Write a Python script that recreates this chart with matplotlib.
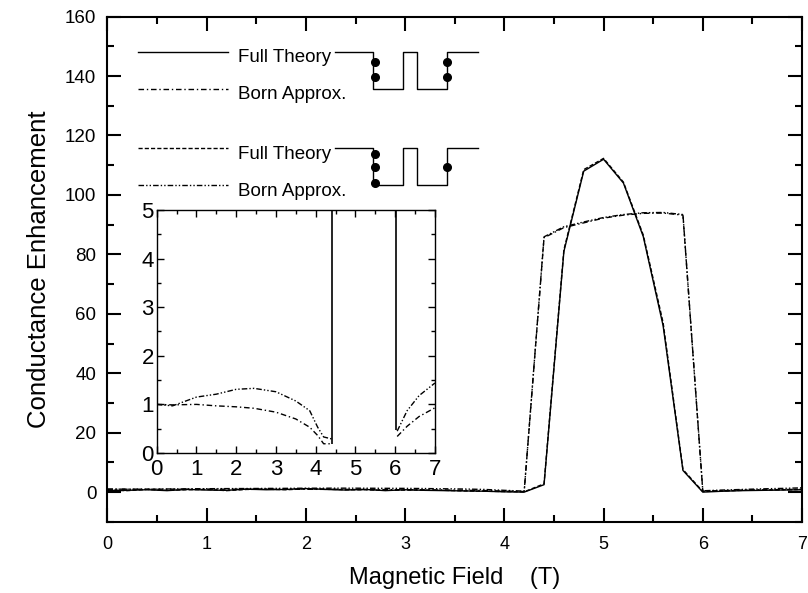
import numpy as np
import matplotlib
matplotlib.use("Agg")
import matplotlib.pyplot as plt
from matplotlib.ticker import MultipleLocator

plt.rcParams['font.family'] = ['Liberation Sans', 'DejaVu Sans']
plt.rcParams['lines.scale_dashes'] = False

# main curves, field in T
field = [0.0, 0.2, 0.4, 0.6, 0.8, 1.0, 1.2, 1.4, 1.6, 1.8, 2.0, 2.2, 2.4, 2.6, 2.8,
         3.0, 3.2, 3.4, 3.6, 3.8, 4.0, 4.2, 4.4, 4.6, 4.8, 5.0, 5.2, 5.4, 5.6, 5.8,
         6.0, 6.2, 6.4, 6.6, 6.8, 7.0]
full1 = [0.5, 0.6, 0.8, 0.5, 0.9, 0.7, 0.6, 1.0, 0.8, 0.9, 1.2, 0.9, 0.7, 0.9, 0.5,
         0.8, 0.6, 0.5, 0.4, 0.3, 0.1, 0.0, 2.5, 81.0, 108.0, 112.0, 104.0, 86.0, 56.0, 7.3,
         0.0, 0.3, 0.5, 0.6, 0.7, 0.8]
born1 = [1.0, 1.0, 0.99, 1.0, 1.0, 1.0, 0.98, 0.97, 0.96, 0.95, 0.95, 0.93, 0.92, 0.88, 0.84,
         0.8, 0.76, 0.7, 0.62, 0.52, 0.35, 0.19, 85.6, 89.0, 90.6, 92.2, 93.2, 93.8, 93.9, 93.2,
         0.34, 0.5, 0.65, 0.77, 0.85, 0.93]
full2 = [0.7, 0.5, 0.9, 0.6, 0.8, 0.9, 0.5, 0.9, 1.0, 0.8, 1.1, 1.0, 0.8, 0.8, 0.6,
         0.7, 0.7, 0.6, 0.4, 0.3, 0.2, 0.1, 2.8, 81.5, 108.5, 112.3, 104.3, 86.5, 57.0, 7.6,
         0.2, 0.4, 0.6, 0.7, 0.8, 0.9]
born2 = [1.0, 0.98, 0.97, 1.05, 1.1, 1.15, 1.18, 1.21, 1.24, 1.27, 1.31, 1.32, 1.33, 1.31, 1.28,
         1.26, 1.2, 1.12, 1.04, 0.9, 0.6, 0.33, 85.9, 89.3, 90.9, 92.4, 93.4, 94.0, 94.1, 93.4,
         0.45, 0.7, 0.9, 1.1, 1.25, 1.44]

# inset (zoom on the low part)
in_field_lo = [0.0, 0.4, 1.0, 1.5, 2.0, 2.45, 3.0, 3.5, 3.85, 4.05, 4.2, 4.4]
in_born1_lo = [1.0, 0.99, 1.0, 0.97, 0.95, 0.92, 0.84, 0.7, 0.53, 0.36, 0.19, 0.19]
in_born2_lo = [1.0, 0.97, 1.15, 1.21, 1.31, 1.33, 1.26, 1.07, 0.87, 0.53, 0.33, 0.29]
in_field_hi = [6.05, 6.3, 6.6, 7.0]
in_born1_hi = [0.34, 0.55, 0.75, 0.93]
in_born2_hi = [0.45, 0.87, 1.18, 1.44]
jump_field = [4.4, 6.03]
jump_low = [0.19, 0.48]

dashdot = (0, (4, 2, 1, 2))
dashed = (0, (3, 1.5))
dashdotdot = (0, (4, 1.5, 1, 1.5, 1, 1.5))

fig = plt.figure(figsize=(8.08, 5.93), dpi=100)
ax = fig.add_axes([0.133, 0.12, 0.8596, 0.852])

ax.plot(field, full1, color='black', lw=1.0)
ax.plot(field, born1, color='black', lw=1.0, linestyle=dashdot)
ax.plot(field, full2, color='black', lw=1.0, linestyle=dashed)
ax.plot(field, born2, color='black', lw=1.0, linestyle=dashdotdot)

ax.set_xlim(0, 7)
ax.set_ylim(-10, 160)
ax.xaxis.set_major_locator(MultipleLocator(1))
ax.xaxis.set_minor_locator(MultipleLocator(0.5))
ax.yaxis.set_major_locator(MultipleLocator(20))
ax.yaxis.set_minor_locator(MultipleLocator(10))
ax.tick_params(which='both', direction='in', top=True, right=True, width=1.5)
ax.tick_params(which='major', length=10)
ax.tick_params(which='minor', length=5)
ax.tick_params(axis='y', labelsize=13.5, pad=8)
ax.tick_params(axis='x', labelsize=13, pad=10)
for s in ax.spines.values():
    s.set_linewidth(1.5)

ax.set_ylabel('Conductance Enhancement', fontsize=18.5, labelpad=10)
ax.set_xlabel('Magnetic Field    (T)', fontsize=17, labelpad=10)

# hand made legend with the well sketches
tr = ax.transAxes
leg_y = [0.9305, 0.8569, 0.7398, 0.666]
leg_styles = ['-', dashdot, dashed, dashdotdot]
leg_text = ['Full Theory', 'Born Approx.', 'Full Theory', 'Born Approx.']
for y, ls, t in zip(leg_y, leg_styles, leg_text):
    ax.plot([0.0439, 0.1735], [y, y], transform=tr, color='black', lw=1.0, linestyle=ls)
    ax.text(0.188, y - 0.012, t, transform=tr, fontsize=13.5, va='center', ha='left')

sx = [0.3272, 0.3827, 0.3827, 0.4259, 0.4259, 0.4461, 0.4461, 0.4893, 0.4893, 0.5339]
for hi, lo in [(0.9305, 0.8569), (0.7398, 0.666)]:
    sy = [hi, hi, lo, lo, hi, hi, lo, lo, hi, hi]
    ax.plot(sx, sy, transform=tr, color='black', lw=1.0)
ax.plot([0.3845] * 2 + [0.4893] * 2, [0.9095, 0.8799, 0.9095, 0.8799], 'o', transform=tr,
        color='black', ms=5.5)
ax.plot([0.3845] * 3 + [0.4893], [0.7285, 0.7023, 0.6713, 0.7023], 'o', transform=tr,
        color='black', ms=5.5)

# inset
axi = fig.add_axes([0.1939, 0.2361, 0.3444, 0.4098])
axi.plot(in_field_lo, in_born1_lo, color='black', lw=1.0, linestyle=dashdot)
axi.plot(in_field_hi, in_born1_hi, color='black', lw=1.0, linestyle=dashdot)
axi.plot(in_field_lo, in_born2_lo, color='black', lw=1.0, linestyle=dashdotdot)
axi.plot(in_field_hi, in_born2_hi, color='black', lw=1.0, linestyle=dashdotdot)
axi.vlines(jump_field, jump_low, 6, color='black', lw=1.2)
axi.set_xlim(0, 7)
axi.set_ylim(0, 5)
axi.xaxis.set_major_locator(MultipleLocator(1))
axi.xaxis.set_minor_locator(MultipleLocator(0.5))
axi.yaxis.set_major_locator(MultipleLocator(1))
axi.yaxis.set_minor_locator(MultipleLocator(0.5))
axi.tick_params(which='both', direction='in', top=True, right=True, width=1.0, labelsize=16)
axi.tick_params(which='major', length=5)
axi.tick_params(axis='y', pad=2)
axi.tick_params(axis='x', pad=4)
axi.tick_params(which='minor', length=3)
for s in axi.spines.values():
    s.set_linewidth(1.0)

fig.savefig('out.png', dpi=100)
